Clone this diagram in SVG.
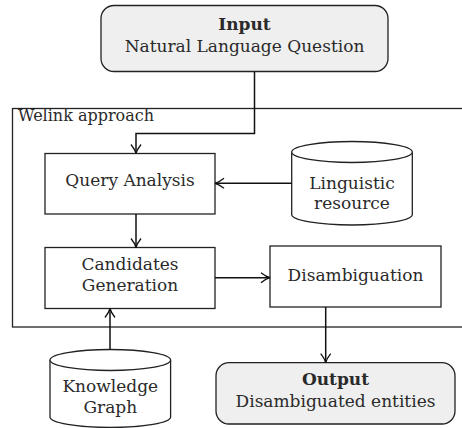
<svg xmlns="http://www.w3.org/2000/svg" width="462" height="428" viewBox="0 0 462 428">
<style>
text{font-family:"DejaVu Serif","Liberation Serif",serif;font-size:17px;fill:#2a2a2a;text-anchor:middle}
.b{font-weight:bold}
.lbl{font-size:16px;text-anchor:start}
.box{fill:#fff;stroke:#222;stroke-width:1.3}
.io{fill:#efefef;stroke:#222;stroke-width:1.3}
.c{fill:none;stroke:#111;stroke-width:1.5}
</style>
<defs>
<marker id="a" markerWidth="12" markerHeight="12" refX="10" refY="6" orient="auto" markerUnits="userSpaceOnUse">
<path d="M1,1 Q6,5 10,6 Q6,7 1,11" fill="none" stroke="#111" stroke-width="1.3"/>
</marker>
</defs>
<g id="container">
<rect x="12.5" y="108.5" width="460" height="218.5" fill="none" stroke="#222" stroke-width="1.3"/>
<text class="lbl" x="18" y="120.5">Welink approach</text>
</g>
<g id="input">
<rect class="io" x="101" y="5.5" width="287" height="66" rx="13"/>
<text class="b" x="244.5" y="30">Input</text>
<text x="244.5" y="52">Natural Language Question</text>
</g>
<g id="query">
<rect class="box" x="45" y="153.5" width="170" height="60.5"/>
<text x="130" y="186">Query Analysis</text>
</g>
<g id="linguistic">
<path class="box" d="M291.7,152 v62.5 a60.3,10.5 0 0 0 120.6,0 v-62.5"/>
<ellipse class="box" cx="352" cy="152" rx="60.3" ry="10.5"/>
<text x="352" y="188.5">Linguistic</text>
<text x="352" y="209">resource</text>
</g>
<g id="candidates">
<rect class="box" x="45" y="247.5" width="170" height="61"/>
<text x="130" y="270">Candidates</text>
<text x="130" y="290.5">Generation</text>
</g>
<g id="disamb">
<rect class="box" x="270" y="246" width="171" height="61"/>
<text x="355.5" y="280.5">Disambiguation</text>
</g>
<g id="kg">
<path class="box" d="M50,360 v57 a60.3,10.5 0 0 0 120.6,0 v-57"/>
<ellipse class="box" cx="110.3" cy="360" rx="60.3" ry="10.5"/>
<text x="110.3" y="392">Knowledge</text>
<text x="110.3" y="413">Graph</text>
</g>
<g id="output">
<rect class="io" x="216" y="362.7" width="239" height="61.3" rx="13"/>
<text class="b" x="335.5" y="385">Output</text>
<text x="335.5" y="407">Disambiguated entities</text>
</g>
<g id="connectors">
<path class="c" d="M254.5,72 V133.5 H136 V153.5" marker-end="url(#a)"/>
<path class="c" d="M291.7,183.3 H215" marker-end="url(#a)"/>
<path class="c" d="M136,214 V247.5" marker-end="url(#a)"/>
<path class="c" d="M215,277.7 H270" marker-end="url(#a)"/>
<path class="c" d="M325.7,307 V362.7" marker-end="url(#a)"/>
<path class="c" d="M110,349.5 V308.5" marker-end="url(#a)"/>
</g>
</svg>
